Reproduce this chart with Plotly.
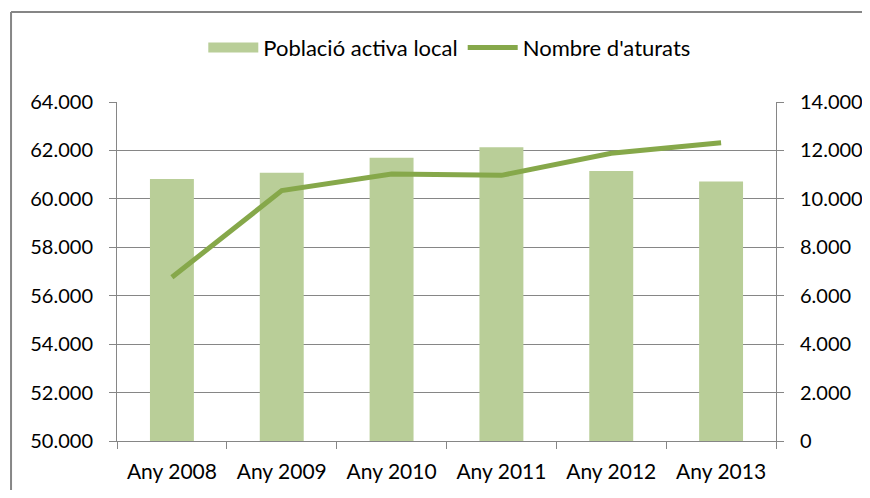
import plotly.graph_objects as go

anys = ["Any 2008", "Any 2009", "Any 2010", "Any 2011", "Any 2012", "Any 2013"]
poblacio_activa = [60820, 61080, 61700, 62130, 61150, 60720]
aturats = [6760, 10340, 11030, 10970, 11880, 12320]

BAR = "#B9CE98"
LINE = "#86A84A"
GRID = "#868686"
FONT = "Lato, Liberation Sans, sans-serif"

fig = go.Figure()
fig.add_trace(go.Bar(x=anys, y=poblacio_activa, name="Població activa local",
                     marker=dict(color=BAR, line=dict(width=0)), showlegend=False, yaxis="y"))
fig.add_trace(go.Scatter(x=anys, y=aturats, name="Nombre d'aturats", mode="lines",
                         line=dict(color=LINE, width=5), showlegend=False, yaxis="y2"))
# legend-only entries (wide swatches like the original)
fig.add_trace(go.Scatter(x=[None], y=[None], mode="lines", name="Població activa local",
                         line=dict(color=BAR, width=14)))
fig.add_trace(go.Scatter(x=[None], y=[None], mode="lines", name="Nombre d'aturats",
                         line=dict(color=LINE, width=5), yaxis="y2"))

# chart frame: only the left and top edges are visible in the original crop
frame = [
    dict(type="line", xref="paper", yref="paper", x0=-0.1608, x1=-0.1608, y0=-0.3, y1=1.2655,
         line=dict(color=GRID, width=2)),
    dict(type="line", xref="paper", yref="paper", x0=-0.1608, x1=1.3, y0=1.2655, y1=1.2655,
         line=dict(color=GRID, width=2)),
]

# page body adds 8px around the figure: keep it inside the window so no scrollbars appear
fig.update_layout(
    width=854, height=482,
    margin=dict(l=109, r=86, t=94, b=49, autoexpand=False),
    paper_bgcolor="white", plot_bgcolor="white",
    font=dict(family=FONT, size=20, color="#000000"),
    separators=",.",
    bargap=0.6,
    legend=dict(orientation="h", x=0.505, xanchor="center", y=1.16, yanchor="middle",
                font=dict(size=22), itemwidth=50, traceorder="normal"),
    xaxis=dict(showline=True, linecolor=GRID, linewidth=1, ticks="outside", tickson="boundaries",
               ticklen=7, tickcolor=GRID, showgrid=False, ticklabelstandoff=12, automargin=False,
               tickfont=dict(size=21)),
    yaxis=dict(range=[50000, 64000], dtick=2000, tickformat=",d", showgrid=True, gridcolor=GRID,
               gridwidth=1, showline=True, linecolor=GRID, ticks="outside", ticklen=7,
               tickcolor=GRID, zeroline=False, ticklabelstandoff=12, automargin=False),
    yaxis2=dict(range=[0, 14000], dtick=2000, tickformat=",d", overlaying="y", side="right",
                showgrid=False, showline=True, linecolor=GRID, ticks="outside", ticklen=7,
                tickcolor=GRID, zeroline=False, ticklabelstandoff=12, automargin=False),
    shapes=frame,
)

fig.write_html("out.html")
